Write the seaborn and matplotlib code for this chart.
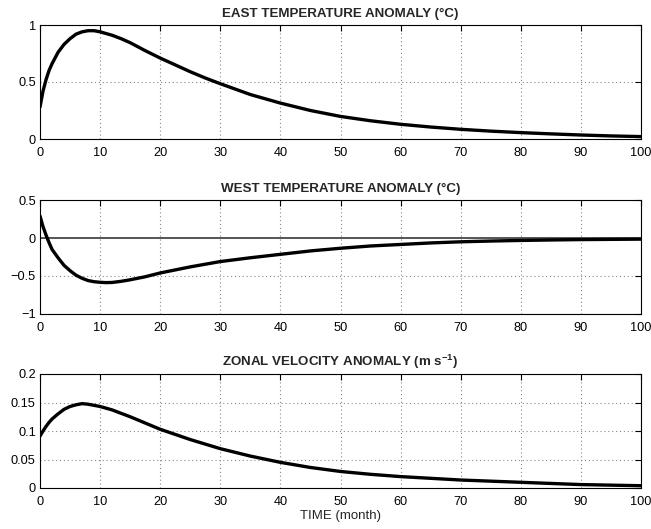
import matplotlib
matplotlib.use("Agg")
import matplotlib.pyplot as plt
import seaborn as sns
import pandas as pd

time = [0, 0.5, 1, 1.5, 2, 3, 4, 5, 6, 7, 8, 9, 10, 11, 12, 13.5, 15, 17.5, 20, 22.5, 25, 27.5, 30, 35, 40, 45, 50, 55, 60, 65, 70, 75, 80, 85, 90, 95, 100]
east = [0.28, 0.42, 0.52, 0.60, 0.66, 0.76, 0.83, 0.88, 0.92, 0.94, 0.95, 0.95, 0.94, 0.925, 0.91, 0.88, 0.845, 0.775, 0.71, 0.65, 0.59, 0.535, 0.485, 0.39, 0.315, 0.25, 0.198, 0.16, 0.129, 0.105, 0.085, 0.069, 0.056, 0.045, 0.035, 0.027, 0.021]
west = [0.29, 0.15, 0.04, -0.06, -0.15, -0.26, -0.36, -0.43, -0.49, -0.53, -0.56, -0.575, -0.583, -0.587, -0.585, -0.57, -0.55, -0.51, -0.46, -0.42, -0.38, -0.345, -0.31, -0.26, -0.215, -0.17, -0.135, -0.105, -0.085, -0.065, -0.05, -0.04, -0.032, -0.026, -0.021, -0.018, -0.015]
velocity = [0.091, 0.100, 0.108, 0.115, 0.121, 0.130, 0.138, 0.143, 0.146, 0.148, 0.147, 0.145, 0.143, 0.140, 0.137, 0.131, 0.125, 0.114, 0.103, 0.094, 0.085, 0.077, 0.069, 0.056, 0.045, 0.036, 0.029, 0.024, 0.020, 0.017, 0.014, 0.012, 0.010, 0.008, 0.006, 0.005, 0.004]

titles = ["EAST TEMPERATURE ANOMALY (\u00b0C)", "WEST TEMPERATURE ANOMALY (\u00b0C)", r"ZONAL VELOCITY ANOMALY (m s$^{\mathregular{-1}}$)"]
ylims = [(0, 1), (-1, 0.5), (0, 0.2)]
yticks = [[0, 0.5, 1], [-1, -0.5, 0, 0.5], [0, 0.05, 0.1, 0.15, 0.2]]
yticklabels = [["0", "0.5", "1"], ["\u22121", "\u22120.5", "0", "0.5"], ["0", "0.05", "0.1", "0.15", "0.2"]]
xticks = list(range(0, 101, 10))

sns.set_style("white")
plt.rcParams["font.family"] = ["Liberation Sans", "DejaVu Sans"]
plt.rcParams["mathtext.fontset"] = "custom"
plt.rcParams["mathtext.rm"] = "Liberation Sans:bold"
plt.rcParams["mathtext.it"] = "Liberation Sans:bold"
plt.rcParams["mathtext.bf"] = "Liberation Sans:bold"

fig = plt.figure(figsize=(6.51, 5.29), dpi=100)
W, H = 651, 529
boxes = [(25, 139), (200, 314), (374, 488)]
series = [east, west, velocity]

for i, (top, bot) in enumerate(boxes):
    ax = fig.add_axes([40 / W, 1 - bot / H, 601 / W, (bot - top) / H])
    df = pd.DataFrame({"t": time, "v": series[i]})
    if i == 1:
        ax.axhline(0, color="#555555", lw=1.4, zorder=1)
    sns.lineplot(data=df, x="t", y="v", ax=ax, color="black", lw=2.4, zorder=3)
    ax.set_xlim(0, 100)
    ax.set_ylim(*ylims[i])
    ax.set_xticks(xticks)
    ax.set_xticklabels([str(x) for x in xticks])
    ax.set_yticks(yticks[i])
    ax.set_yticklabels(yticklabels[i])
    ax.grid(True, color="#888888", linestyle=(0, (1, 2.5)), lw=0.8)
    ax.tick_params(direction="in", top=True, right=True, length=4.3, width=0.8,
                   labelsize=9.2, colors="black")
    ax.tick_params(axis="x", pad=6)
    ax.tick_params(axis="y", pad=3)
    for s in ax.spines.values():
        s.set_color("black")
        s.set_linewidth(0.8)
    ax.set_xlabel("")
    ax.set_ylabel("")
    ax.set_title(titles[i], fontsize=9.6, fontweight="bold", pad=6)
    if i == 2:
        ax.set_xlabel("TIME (month)", fontsize=9.5, labelpad=1)

fig.savefig("out.png", dpi=100)
